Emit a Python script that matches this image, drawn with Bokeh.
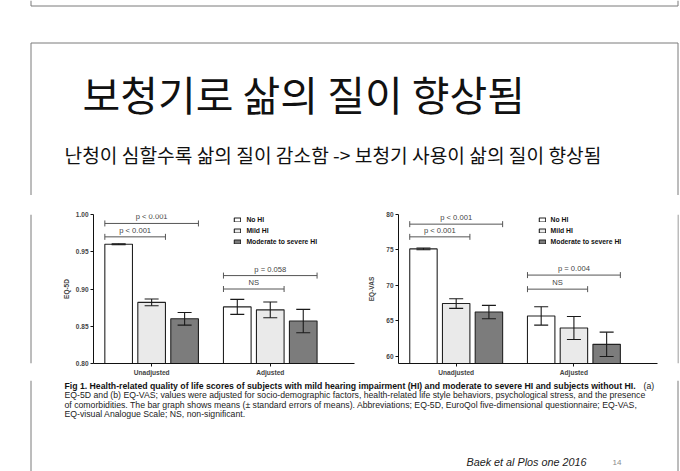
import math
from bokeh.plotting import figure
from bokeh.layouts import column, row
from bokeh.models import (Range1d, FixedTicker, NumeralTickFormatter, ColumnDataSource,
                          Legend, LegendItem, Whisker, TeeHead, Label)
from bokeh.core.properties import value
from bokeh.embed import file_html
from bokeh.resources import INLINE

# ---------------- data ----------------
slide_title = "보청기로 삶의 질이 향상됨"
slide_subtitle = "난청이 심할수록 삶의 질이 감소함 -> 보청기 사용이 삶의 질이 향상됨"

groups = ["Unadjusted", "Adjusted"]
series = ["No HI", "Mild HI", "Moderate to severe HI"]
series_fill = ["#ffffff", "#eaeaea", "#7c7c7c"]

# Panel A: EQ-5D means and standard errors
eq5d_no_hi = [0.960, 0.876]
eq5d_mild = [0.882, 0.872]
eq5d_mod = [0.860, 0.857]
eq5d_no_hi_se = [0.0006, 0.0101]
eq5d_mild_se = [0.0045, 0.0105]
eq5d_mod_se = [0.0085, 0.0157]
eq5d_ticks = [0.80, 0.85, 0.90, 0.95, 1.00]

# Panel B: EQ-VAS means and standard errors
vas_no_hi = [75.15, 65.70]
vas_mild = [67.45, 64.00]
vas_mod = [66.25, 61.70]
vas_no_hi_se = [0.12, 1.29]
vas_mild_se = [0.68, 1.62]
vas_mod_se = [0.94, 1.72]
vas_ticks = [60, 65, 70, 75, 80]

# significance brackets: group, last series spanned (from series 0), level, label
eq5d_br_group = [0, 0, 1, 1]
eq5d_br_last = [2, 1, 2, 1]
eq5d_br_y = [0.988, 0.970, 0.918, 0.900]
eq5d_br_text = ["p < 0.001", "p < 0.001", "p = 0.058", "NS"]

vas_br_group = [0, 0, 1, 1]
vas_br_last = [2, 1, 2, 1]
vas_br_y = [78.64, 76.85, 71.46, 69.48]
vas_br_text = ["p < 0.001", "p < 0.001", "p = 0.004", "NS"]

caption_bold = ("Fig 1. Health-related quality of life scores of subjects with mild hearing "
                "impairment (HI) and moderate to severe HI and subjects without HI.")
caption_a = "(a)"
caption_lines = [
    "EQ-5D and (b) EQ-VAS; values were adjusted for socio-demographic factors, health-related life style behaviors, psychological stress, and the presence",
    "of comorbidities. The bar graph shows means (\u00b1 standard errors of means). Abbreviations; EQ-5D, EuroQol five-dimensional questionnaire; EQ-VAS,",
    "EQ-visual Analogue Scale; NS, non-significant.",
]
footer_ref = "Baek et al Plos one 2016"
page_number = "14"

# ---------------- layout constants ----------------
W, H = 680, 471
HEAD_H, MID_H = 195, 185
FOOT_H = H - HEAD_H - MID_H
BORDER = "#7a7a7a"
SANS = value("Liberation Sans")
KR = value("Noto Sans CJK KR")
FRAME_L, FRAME_R = 30.5, 677.5   # slide frame lines (pixel centres)

BAR_STEP = 0.278
BAR_W = 0.233


def blank(width, height):
    p = figure(width=width, height=height, output_backend="svg", toolbar_location=None,
               x_range=Range1d(0, width), y_range=Range1d(height, 0),
               min_border=0, outline_line_color=None)
    p.axis.visible = False
    p.grid.visible = False
    p.background_fill_color = "white"
    p.border_fill_color = "white"
    return p


def vline(p, x, y0, y1):
    p.line(x=[x, x], y=[y0, y1], line_color=BORDER, line_width=1)


def bar_x(gi, si):
    return gi + 0.5 + (si - 1) * BAR_STEP


def make_chart(means, ses, ticks, y_start, y_end, fmt, ylabel, br_group, br_last, br_y, br_text,
               width, b_left, b_right, label_standoff, panel_label, legend_x):
    p = figure(width=width, height=MID_H, output_backend="svg", toolbar_location=None,
               x_range=Range1d(0.01, 2.21), y_range=Range1d(y_start, y_end),
               min_border_left=b_left, min_border_right=b_right,
               min_border_top=19, min_border_bottom=17, outline_line_color=None)
    p.grid.visible = False
    p.background_fill_color = "white"
    p.border_fill_color = "white"

    renderers = []
    for si in range(len(series)):
        xs = [bar_x(gi, si) for gi in range(len(groups))]
        src = ColumnDataSource(dict(x=xs, top=means[si],
                                    upper=[m + s for m, s in zip(means[si], ses[si])],
                                    lower=[m - s for m, s in zip(means[si], ses[si])]))
        r = p.vbar(x="x", top="top", bottom=y_start, width=BAR_W, source=src,
                   fill_color=series_fill[si], line_color="#222222", line_width=1.1)
        renderers.append(r)
        wh = Whisker(source=src, base="x", upper="upper", lower="lower", dimension="height",
                     line_color="#1a1a1a", line_width=1.1,
                     upper_head=TeeHead(size=14, line_color="#1a1a1a", line_width=1.1),
                     lower_head=TeeHead(size=14, line_color="#1a1a1a", line_width=1.1))
        wh.level = "annotation"
        p.add_layout(wh)

    x0 = [bar_x(g, 0) - BAR_W / 2 for g in br_group]
    x1 = [bar_x(g, l) + BAR_W / 2 for g, l in zip(br_group, br_last)]
    bsrc = ColumnDataSource(dict(x0=x0, x1=x1, y=br_y, xm=[(a + b) / 2 for a, b in zip(x0, x1)],
                                 text=br_text))
    p.segment(x0="x0", y0="y", x1="x1", y1="y", source=bsrc, line_color="#555555", line_width=1)
    p.scatter(x="x0", y="y", source=bsrc, marker="dash", angle=math.pi / 2, size=6,
              line_color="#555555", line_width=1)
    p.scatter(x="x1", y="y", source=bsrc, marker="dash", angle=math.pi / 2, size=6,
              line_color="#555555", line_width=1)
    p.text(x="xm", y="y", text="text", source=bsrc, y_offset=-2, text_align="center",
           text_baseline="bottom", text_font=SANS, text_font_size="7.6px", text_color="#444444")

    ax = p.yaxis[0]
    ax.ticker = FixedTicker(ticks=ticks)
    ax.formatter = NumeralTickFormatter(format=fmt)
    ax.axis_label = ylabel
    ax.axis_label_text_font = "Liberation Sans"
    ax.axis_label_text_font_style = "bold"
    ax.axis_label_text_font_size = "6.5px"
    ax.axis_label_standoff = label_standoff
    ax.major_label_text_font = "Liberation Sans"
    ax.major_label_text_font_style = "bold"
    ax.major_label_text_font_size = "6.5px"
    ax.major_label_standoff = 2
    ax.major_tick_out = 3
    ax.major_tick_in = 0
    ax.minor_tick_line_color = None
    ax.axis_line_color = "#111111"
    ax.major_tick_line_color = "#111111"

    xa = p.xaxis[0]
    group_ticks = [gi + 0.5 for gi in range(len(groups))]
    xa.ticker = FixedTicker(ticks=group_ticks)
    xa.major_label_overrides = {t: g for t, g in zip(group_ticks, groups)}
    xa.major_label_text_font = "Liberation Sans"
    xa.major_label_text_font_style = "bold"
    xa.major_label_text_font_size = "6.6px"
    xa.major_label_standoff = 2
    xa.major_tick_out = 3
    xa.major_tick_in = 0
    xa.minor_tick_line_color = None
    xa.axis_line_color = "#111111"
    xa.major_tick_line_color = "#111111"

    legend = Legend(items=[LegendItem(label=s, renderers=[r]) for s, r in zip(series, renderers)],
                    location=(legend_x, 117.5), orientation="vertical",
                    glyph_width=8, glyph_height=5, label_height=9, label_standoff=5,
                    spacing=2, padding=0, margin=0, border_line_color=None,
                    background_fill_alpha=0, label_text_font="Liberation Sans",
                    label_text_font_style="bold", label_text_font_size="6.8px",
                    label_text_color="#111111")
    p.add_layout(legend)

    p.add_layout(Label(x=-21, y=160.7, x_units="screen", y_units="screen", text=panel_label,
                       text_font="Liberation Sans", text_font_style="bold",
                       text_font_size="7.5px", text_align="center", text_baseline="middle",
                       text_color="#111111"))
    return p


# ---------------- header ----------------
head = blank(W, HEAD_H)
# bottom edge of the previous slide
head.line(x=[FRAME_L, FRAME_L, FRAME_R, FRAME_R], y=[0, 5.5, 5.5, 0],
          line_color=BORDER, line_width=1)
# top of the current slide frame
head.line(x=[FRAME_L, FRAME_L, FRAME_R, FRAME_R], y=[HEAD_H, 42.5, 42.5, HEAD_H],
          line_color=BORDER, line_width=1)
head.text(x=[82], y=[92.5], text=[slide_title], text_font=KR, text_font_size="41px",
          text_align="left", text_baseline="middle", text_color="#111111")
head.text(x=[64], y=[154.5], text=[slide_subtitle], text_font=KR, text_font_size="19.2px",
          text_align="left", text_baseline="middle", text_color="#111111")

# ---------------- middle row ----------------
side_l = blank(32, MID_H)
vline(side_l, FRAME_L, 0, MID_H)
side_r = blank(3, MID_H)
vline(side_r, FRAME_R - 677, 0, MID_H)

chart_a = make_chart([eq5d_no_hi, eq5d_mild, eq5d_mod],
                     [eq5d_no_hi_se, eq5d_mild_se, eq5d_mod_se],
                     eq5d_ticks, 0.80, 1.00, "0.00", "EQ-5D",
                     eq5d_br_group, eq5d_br_last, eq5d_br_y, eq5d_br_text,
                     width=328, b_left=61, b_right=6, label_standoff=3, panel_label="A",
                     legend_x=140.4)
chart_b = make_chart([vas_no_hi, vas_mild, vas_mod],
                     [vas_no_hi_se, vas_mild_se, vas_mod_se],
                     vas_ticks, 59.0, 80.0, "0", "EQ-VAS",
                     vas_br_group, vas_br_last, vas_br_y, vas_br_text,
                     width=317, b_left=38, b_right=20, label_standoff=8, panel_label="B",
                     legend_x=139.6)

# ---------------- footer ----------------
foot = blank(W, FOOT_H)
vline(foot, FRAME_L, 0, FOOT_H)
vline(foot, FRAME_R, 0, FOOT_H)
foot.text(x=[64], y=[5.4], text=[caption_bold], text_font=SANS, text_font_style="bold",
          text_font_size="8.7px", text_align="left", text_baseline="middle", text_color="#111111")
foot.text(x=[643], y=[5.4], text=[caption_a], text_font=SANS, text_font_size="8.7px",
          text_align="left", text_baseline="middle", text_color="#222222")
foot.text(x=[64, 64, 64], y=[14.7, 24.0, 33.4], text=caption_lines, text_font=SANS,
          text_font_size="8.7px", text_align="left", text_baseline="middle", text_color="#222222")
foot.text(x=[466], y=[81], text=[footer_ref], text_font=SANS, text_font_style="italic",
          text_font_size="10.8px", text_align="left", text_baseline="middle", text_color="#222222")
foot.text(x=[612], y=[81.5], text=[page_number], text_font=SANS, text_font_size="8px",
          text_align="left", text_baseline="middle", text_color="#8a8a8a")

layout = column(head, row(side_l, chart_a, chart_b, side_r), foot)
open("out.html", "w").write(file_html(layout, INLINE))
